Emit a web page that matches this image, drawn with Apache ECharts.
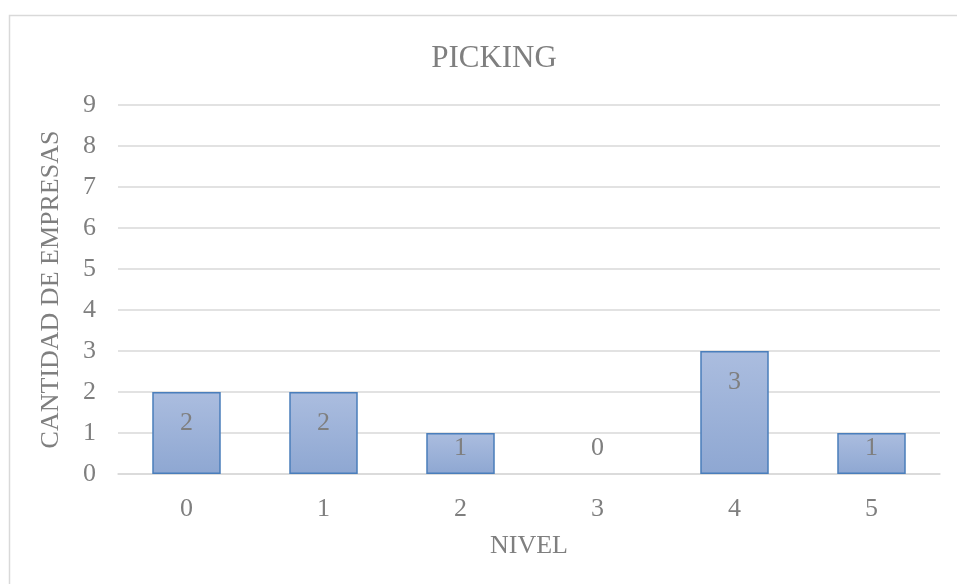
<!DOCTYPE html>
<html>
<head>
<meta charset="utf-8">
<script src="https://cdn.jsdelivr.net/npm/echarts@6/dist/echarts.min.js"></script>
<style>
  html, body { margin: 0; padding: 0; background: #fff; }
  #chart { width: 957px; height: 584px; }
</style>
</head>
<body>
<div id="chart"></div>
<script>
var niveles = ['0', '1', '2', '3', '4', '5'];
var empresas = [2, 2, 1, 0, 3, 1];
var yTicks = { min: 0, max: 9, step: 1 };

var serif = '"Liberation Serif", "Times New Roman", serif';
var grey = '#7f7f7f';

// Excel-like "inside end" labels: short bars get the label lower down
function barData(values) {
    return values.map(function (v) {
        var item = { value: v };
        if (v === 0) {
            item.label = { position: 'insideBottom', distance: 13 };
            item.itemStyle = { borderWidth: 0 };
        } else if (v === 1) {
            item.label = { position: 'insideTop', distance: 2 };
        }
        return item;
    });
}

var myChart = echarts.init(document.getElementById('chart'));

var option = {
    backgroundColor: '#fff',
    animation: false,
    title: {
        text: 'PICKING',
        left: 489,
        top: 38,
        textAlign: 'center',
        textStyle: { fontFamily: serif, fontSize: 31, fontWeight: 'normal', color: grey }
    },
    graphic: [{
        type: 'rect',
        shape: { x: 9.5, y: 15.5, width: 1000, height: 1000 },
        style: { fill: 'none', stroke: '#d9d9d9', lineWidth: 1.5 },
        silent: true
    }],
    grid: { left: 118, right: 17, top: 105, bottom: 110 },
    xAxis: {
        type: 'category',
        data: niveles,
        name: 'NIVEL',
        nameLocation: 'middle',
        nameGap: 59,
        nameTextStyle: { fontFamily: serif, fontSize: 26, color: grey },
        axisLine: { lineStyle: { color: '#d9d9d9', width: 1.5 } },
        axisTick: { show: false },
        axisLabel: { fontFamily: serif, fontSize: 26, color: grey, margin: 22 }
    },
    yAxis: {
        type: 'value',
        min: yTicks.min,
        max: yTicks.max,
        interval: yTicks.step,
        name: 'CANTIDAD DE EMPRESAS',
        nameLocation: 'middle',
        nameRotate: 90,
        nameGap: 54,
        nameTextStyle: { fontFamily: serif, fontSize: 26, color: grey },
        axisLine: { show: false },
        axisTick: { show: false },
        axisLabel: { fontFamily: serif, fontSize: 26, color: grey, margin: 22 },
        splitLine: { lineStyle: { color: '#d9d9d9', width: 1.5 } }
    },
    series: [{
        type: 'bar',
        data: barData(empresas),
        barWidth: '50%',
        itemStyle: {
            color: new echarts.graphic.LinearGradient(0, 0, 0, 1, [
                { offset: 0, color: '#abbddf' },
                { offset: 1, color: '#8ea7d2' }
            ]),
            borderColor: '#4a7ebb',
            borderWidth: 1.5
        },
        label: {
            show: true,
            position: 'insideTop',
            distance: 18,
            fontFamily: serif,
            fontSize: 26,
            color: grey
        }
    }]
};

myChart.setOption(option);
</script>
</body>
</html>
